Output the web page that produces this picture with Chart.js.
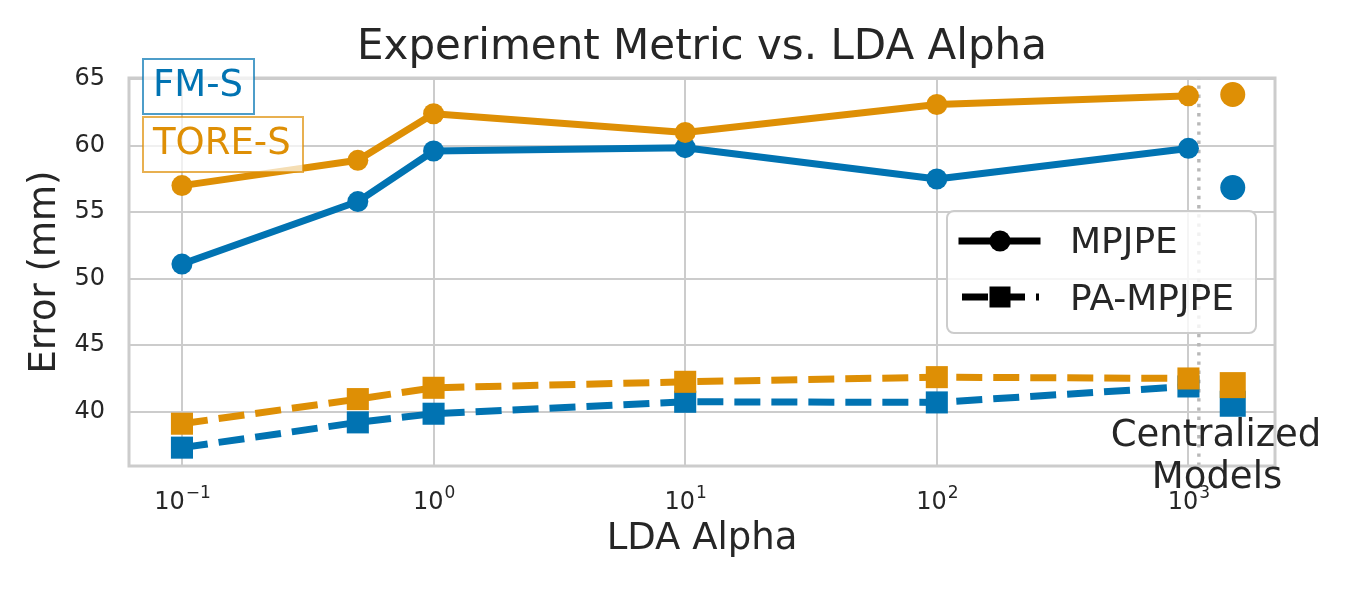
<!DOCTYPE html>
<html><head><meta charset="utf-8">
<script src="https://cdn.jsdelivr.net/npm/chart.js@4.4.1/dist/chart.umd.min.js"></script>
<style>html,body{margin:0;padding:0;background:#fff;overflow:hidden}#wrap{width:1360px;height:595px;position:relative}</style>
</head><body><div id="wrap"><canvas id="c" width="1360" height="595"></canvas></div>
<script>
// ---- data ----
const alphaValues = [0.1, 0.5, 1, 10, 100, 1000];
const fmsMpjpe = [51.1, 55.8, 59.6, 59.85, 57.5, 59.8];
const toreMpjpe = [57.0, 58.9, 62.4, 61.0, 63.1, 63.75];
const fmsPaMpjpe = [37.3, 39.2, 39.85, 40.75, 40.7, 41.9];
const torePaMpjpe = [39.1, 40.95, 41.8, 42.25, 42.6, 42.5];
const centralizedAlpha = 1500;
const centralizedFms = [56.85, 40.6];   // MPJPE, PA-MPJPE
const centralizedTore = [63.85, 42.0];  // MPJPE, PA-MPJPE
const separatorAlpha = 1100;
const xTickValues = [0.1, 1, 10, 100, 1000];
const xTickExponents = ['\u22121', '0', '1', '2', '3'];
const yTickValues = [40, 45, 50, 55, 60, 65];
const xRange = [0.0616, 2208];
const yRange = [35.92, 65.09];

// ---- style ----
const FONT = 'DejaVu Sans';
const TXT = '#262626';
const BLUE = '#0173b2';
const ORANGE = '#de8f05';
const GRID = '#cccccc';

const pts = (xs, ys) => xs.map((x, i) => ({x: x, y: ys[i]}));

function lineSet(label, xs, ys, color, dashed, order) {
  return {
    label, data: pts(xs, ys), order,
    borderColor: color, backgroundColor: color,
    borderWidth: 7, borderDash: dashed ? [26, 11] : [],
    borderJoinStyle: 'round', borderCapStyle: dashed ? 'butt' : 'square',
    pointStyle: dashed ? 'rect' : 'circle',
    pointRadius: dashed ? 15.6 : 10.5,
    pointBorderWidth: 0, pointBackgroundColor: color, pointBorderColor: color,
    tension: 0, clip: false
  };
}
function pointSet(label, x, y, color, square, order) {
  return {
    label, data: [{x: x, y: y}], order, showLine: false,
    pointStyle: square ? 'rect' : 'circle',
    pointRadius: square ? 18.4 : 12.5,
    pointBorderWidth: 0, pointBackgroundColor: color, pointBorderColor: color,
    borderColor: color, backgroundColor: color, clip: false
  };
}

const datasets = [
  lineSet('TORE-S MPJPE', alphaValues, toreMpjpe, ORANGE, false, 1),
  lineSet('TORE-S PA-MPJPE', alphaValues, torePaMpjpe, ORANGE, true, 2),
  lineSet('FM-S MPJPE', alphaValues, fmsMpjpe, BLUE, false, 3),
  lineSet('FM-S PA-MPJPE', alphaValues, fmsPaMpjpe, BLUE, true, 4),
  pointSet('TORE-S MPJPE (central)', centralizedAlpha, centralizedTore[0], ORANGE, false, 1),
  pointSet('TORE-S PA-MPJPE (central)', centralizedAlpha, centralizedTore[1], ORANGE, true, 1),
  pointSet('FM-S MPJPE (central)', centralizedAlpha, centralizedFms[0], BLUE, false, 3),
  pointSet('FM-S PA-MPJPE (central)', centralizedAlpha, centralizedFms[1], BLUE, true, 3),
  {
    label: 'separator', order: 10,
    data: [{x: separatorAlpha, y: yRange[0]}, {x: separatorAlpha, y: yRange[1]}],
    borderColor: '#b8b8b8', borderWidth: 3.4, borderDash: [3.4, 5.8],
    pointRadius: 0, clip: false
  }
];

const decor = {
  id: 'decor',
  afterDatasetsDraw(chart) {
    const ctx = chart.ctx, a = chart.chartArea;
    ctx.save();
    // frame (spines)
    ctx.strokeStyle = GRID; ctx.lineWidth = 3;
    ctx.strokeRect(a.left, a.top, a.right - a.left, a.bottom - a.top);

    // legend
    const lx = 947, ly = 211, lw = 309, lh = 122;
    ctx.beginPath();
    ctx.roundRect(lx, ly, lw, lh, 7);
    ctx.fillStyle = 'rgba(255,255,255,0.8)'; ctx.fill();
    ctx.strokeStyle = GRID; ctx.lineWidth = 2; ctx.stroke();

    ctx.strokeStyle = '#000'; ctx.fillStyle = '#000'; ctx.lineWidth = 7;
    ctx.setLineDash([]); ctx.lineCap = 'square';
    ctx.beginPath(); ctx.moveTo(962, 241); ctx.lineTo(1037, 241); ctx.stroke();
    ctx.beginPath(); ctx.arc(1000, 241, 10.5, 0, Math.PI * 2); ctx.fill();
    ctx.lineCap = 'butt'; ctx.setLineDash([26, 11]);
    ctx.beginPath(); ctx.moveTo(962, 297); ctx.lineTo(1039, 297); ctx.stroke();
    ctx.setLineDash([]);
    ctx.fillRect(989.5, 286.5, 21, 21);

    ctx.font = '36px "' + FONT + '"'; ctx.fillStyle = TXT;
    ctx.textAlign = 'left'; ctx.textBaseline = 'alphabetic';
    ctx.fillText('MPJPE', 1070, 253);
    ctx.fillText('PA-MPJPE', 1070, 310);
    ctx.restore();
  },
  afterDraw(chart) {
    const ctx = chart.ctx, a = chart.chartArea;
    ctx.save();
    ctx.textBaseline = 'alphabetic';

    // x tick labels: 10 with superscript exponent
    const xs = chart.scales.x;
    const baseFont = '24px "' + FONT + '"', supFont = '17px "' + FONT + '"';
    ctx.fillStyle = TXT; ctx.textAlign = 'left';
    xTickValues.forEach((v, i) => {
      const px = xs.getPixelForValue(v);
      ctx.font = baseFont; const w1 = ctx.measureText('10').width;
      ctx.font = supFont; const w2 = ctx.measureText(xTickExponents[i]).width;
      const x0 = px - (w1 + w2) / 2;
      ctx.font = baseFont; ctx.fillText('10', x0, 509);
      ctx.font = supFont; ctx.fillText(xTickExponents[i], x0 + w1 + 1, 498);
    });

    // title
    ctx.font = '42px "' + FONT + '"'; ctx.fillStyle = TXT;
    ctx.textAlign = 'center';
    ctx.fillText('Experiment Metric vs. LDA Alpha', (a.left + a.right) / 2, 59);

    // boxed series labels
    const box = (txt, x, y, w, h, color, edge) => {
      ctx.fillStyle = 'rgba(255,255,255,0.7)';
      ctx.fillRect(x, y, w, h);
      ctx.strokeStyle = edge; ctx.lineWidth = 2;
      ctx.strokeRect(x, y, w, h);
      ctx.font = '37px "' + FONT + '"'; ctx.fillStyle = color;
      ctx.textAlign = 'left';
      ctx.fillText(txt, x + 10, y + 37);
    };
    box('FM-S', 143, 59, 111, 55, BLUE, 'rgba(1,115,178,0.7)');
    box('TORE-S', 143, 117, 160, 55, ORANGE, 'rgba(222,143,5,0.7)');

    // centralized label
    ctx.font = '37px "' + FONT + '"'; ctx.fillStyle = TXT;
    ctx.textAlign = 'center';
    ctx.fillText('Centralized', 1216, 446);
    ctx.fillText('Models', 1217, 488);
    ctx.restore();
  }
};

new Chart(document.getElementById('c'), {
  type: 'line',
  data: { datasets },
  options: {
    responsive: false, animation: false, devicePixelRatio: 1,
    layout: { padding: { top: 78, right: 85, left: 0, bottom: 0 } },
    plugins: { legend: { display: false }, tooltip: { enabled: false }, title: { display: false } },
    scales: {
      x: {
        type: 'logarithmic', min: xRange[0], max: xRange[1],
        afterBuildTicks: s => { s.ticks = xTickValues.map(v => ({value: v})); },
        afterFit: s => { s.height = 129; },
        ticks: { display: false, autoSkip: false, maxRotation: 0 },
        grid: { color: GRID, lineWidth: 2, drawTicks: false },
        border: { display: false },
        title: { display: true, text: 'LDA Alpha', color: TXT,
                 font: { family: FONT, size: 37 }, padding: { top: 0, bottom: 33 } }
      },
      y: {
        min: yRange[0], max: yRange[1],
        afterBuildTicks: s => { s.ticks = yTickValues.map(v => ({value: v})); },
        afterFit: s => { s.width = 129; },
        ticks: {
          callback: v => String(v),
          font: { family: FONT, size: 24 }, color: TXT, padding: 24
        },
        grid: { color: GRID, lineWidth: 2, drawTicks: false },
        border: { display: false },
        title: { display: true, text: 'Error (mm)', color: TXT,
                 font: { family: FONT, size: 37 }, padding: { top: 23, bottom: 0 } }
      }
    }
  },
  plugins: [decor]
});
</script>
</body></html>
